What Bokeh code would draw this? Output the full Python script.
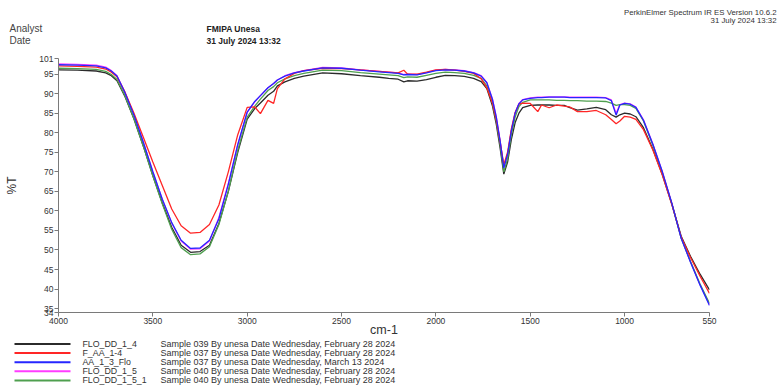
from bokeh.plotting import figure
from bokeh.models import Range1d, FixedTicker, ColumnDataSource
from bokeh.layouts import column
from bokeh.core.properties import value
from bokeh.embed import file_html
from bokeh.resources import INLINE

# ---------------- data ----------------
wavenumber = [4000, 3900, 3800, 3750, 3720, 3690, 3650, 3600, 3550, 3500,
              3450, 3400, 3350, 3300, 3250, 3200, 3150, 3100, 3050, 3000,
              2960, 2930, 2890, 2860, 2840, 2800, 2750, 2700, 2600, 2500,
              2400, 2300, 2250, 2200, 2170, 2150, 2100, 2050, 2000, 1950,
              1900, 1850, 1800, 1760, 1730, 1700, 1680, 1660, 1640, 1620,
              1600, 1580, 1560, 1540, 1500, 1460, 1440, 1400, 1360, 1320,
              1290, 1250, 1200, 1150, 1100, 1070, 1045, 1025, 1000, 970,
              940, 900, 850, 800, 750, 700, 650, 600, 550]

t_flo_dd_1_4 = [96.1, 96.0, 95.8, 95.3, 94.6, 93.3, 89.5, 83.5, 76.5, 69.0,
                62.0, 55.8, 51.2, 49.4, 49.6, 51.2, 56.8, 65.0, 75.0, 83.5,
                86.2, 87.6, 89.6, 90.6, 92.0, 93.0, 93.9, 94.5, 95.3, 95.1,
                94.6, 94.2, 93.9, 93.7, 93.0, 93.3, 93.2, 93.6, 94.2, 94.7,
                94.6, 94.4, 93.9, 93.1, 91.3, 86.8, 82.2, 76.2, 69.4, 72.5,
                78.3, 82.6, 85.0, 86.4, 87.0, 87.1, 87.1, 87.1, 87.0, 87.0,
                86.4, 85.8, 86.1, 86.5, 85.9, 84.6, 84.0, 84.6, 85.0, 84.8,
                84.1, 81.3, 75.8, 69.3, 61.8, 53.5, 48.3, 43.8, 39.8]

t_f_aa_1_4 = [97.1, 97.0, 96.8, 96.3, 95.5, 94.3, 90.6, 85.0, 78.8, 72.5,
              66.5, 60.5, 56.2, 54.3, 54.5, 56.5, 61.5, 70.0, 79.5, 86.5,
              86.6, 84.9, 88.3, 87.5, 91.3, 93.8, 95.2, 95.9, 96.5, 96.4,
              96.1, 95.7, 95.5, 95.3, 96.0, 95.0, 95.0, 95.5, 96.1, 96.2,
              96.0, 95.7, 95.2, 93.8, 91.5, 87.5, 83.3, 77.8, 71.8, 75.0,
              81.0, 85.2, 87.3, 87.6, 87.5, 85.4, 87.1, 86.4, 87.1, 86.8,
              86.6, 85.4, 85.4, 85.7, 84.6, 83.4, 82.3, 83.0, 84.2, 84.0,
              83.4, 80.8, 75.6, 69.2, 61.7, 53.3, 48.0, 43.3, 38.9]

t_aa_1_3_flo = [97.4, 97.3, 97.1, 96.6, 95.8, 94.5, 90.5, 84.5, 77.5, 70.0,
                63.0, 57.0, 52.5, 50.4, 50.5, 52.5, 58.0, 66.8, 77.0, 85.3,
                88.0, 89.5, 91.5, 92.6, 93.5, 94.5, 95.3, 95.8, 96.6, 96.5,
                96.0, 95.6, 95.4, 95.2, 94.8, 94.9, 94.8, 95.3, 95.9, 96.1,
                96.0, 95.8, 95.3, 94.5, 92.8, 88.5, 84.0, 78.0, 71.0, 74.5,
                80.5, 85.0, 87.4, 88.4, 88.8, 89.0, 89.0, 89.1, 89.1, 89.1,
                89.0, 89.0, 89.0, 89.0, 88.9, 88.2, 84.5, 87.1, 87.5, 87.3,
                86.5, 83.2, 77.0, 70.0, 62.0, 53.0, 46.8, 41.0, 35.8]

t_flo_dd_1_5 = [97.6, 97.5, 97.3, 96.8, 95.9, 94.6, 90.6, 84.6, 77.5, 70.0,
                63.0, 56.9, 52.3, 50.2, 50.3, 52.3, 58.3, 67.0, 76.8, 85.2,
                87.9, 89.5, 91.5, 92.6, 93.5, 94.6, 95.4, 95.9, 96.7, 96.6,
                96.1, 95.7, 95.5, 95.3, 94.9, 95.0, 94.9, 95.4, 96.0, 96.2,
                96.1, 95.9, 95.4, 94.6, 92.9, 88.6, 84.1, 78.1, 71.2, 74.6,
                80.6, 85.1, 87.5, 88.5, 88.9, 89.1, 89.1, 89.2, 89.2, 89.2,
                89.1, 89.1, 89.1, 89.1, 89.0, 88.4, 85.0, 87.2, 87.6, 87.4,
                86.6, 83.3, 77.1, 70.1, 62.1, 53.1, 46.9, 41.1, 36.0]

t_flo_dd_1_5_1 = [96.5, 96.4, 96.2, 95.7, 94.9, 93.6, 89.7, 83.6, 76.5, 69.0,
                  61.8, 55.3, 50.6, 48.8, 49.0, 50.8, 56.5, 65.0, 75.5, 84.0,
                  86.8, 88.6, 90.8, 91.8, 92.8, 93.8, 94.6, 95.2, 96.0, 95.9,
                  95.4, 95.0, 94.8, 94.6, 94.1, 94.3, 94.2, 94.7, 95.2, 95.5,
                  95.4, 95.2, 94.7, 93.9, 92.0, 87.6, 83.0, 77.0, 70.0, 73.3,
                  79.5, 84.0, 86.7, 87.8, 88.4, 88.4, 88.4, 88.4, 88.3, 88.3,
                  88.2, 88.2, 88.1, 88.1, 88.0, 87.6, 87.0, 87.2, 87.2, 87.0,
                  86.2, 83.0, 76.8, 69.8, 61.9, 53.0, 47.0, 41.3, 36.3]

series_names = ["FLO_DD_1_4", "F_AA_1-4", "AA_1_3_Flo", "FLO_DD_1_5", "FLO_DD_1_5_1"]
series_notes = ["Sample 039 By unesa Date Wednesday, February 28 2024",
                "Sample 037 By unesa Date Wednesday, February 28 2024",
                "Sample 037 By unesa Date Wednesday, March 13 2024",
                "Sample 040 By unesa Date Wednesday, February 28 2024",
                "Sample 040 By unesa Date Wednesday, February 28 2024"]
series_values = [t_flo_dd_1_4, t_f_aa_1_4, t_aa_1_3_flo, t_flo_dd_1_5, t_flo_dd_1_5_1]
series_colors = ["#2b2b2b", "#ff2626", "#2626ff", "#ff3cff", "#4f9f4f"]

x_ticks = [4000, 3500, 3000, 2500, 2000, 1500, 1000, 550]
y_ticks = [34, 35, 40, 45, 50, 55, 60, 65, 70, 75, 80, 85, 90, 95, 99]
y_tick_text = {99: "101"}

header_left = ["Analyst", "Date"]
header_mid = ["FMIPA Unesa", "31 July 2024 13:32"]
header_right = ["PerkinElmer Spectrum IR ES Version 10.6.2", "31 July 2024 13:32"]

FONT = "Liberation Sans"
W = 777
H_HEAD = 50
H_MAIN = 286
H_LEG = 49


def strip(h):
    f = figure(width=W, height=h, output_backend="svg", toolbar_location=None,
               x_range=Range1d(0, W), y_range=Range1d(h, 0),
               min_border=0, min_border_left=0, min_border_right=0,
               min_border_top=0, min_border_bottom=0, frame_align=False)
    f.axis.visible = False
    f.grid.visible = False
    f.outline_line_color = None
    f.border_fill_color = "white"
    return f


# ---------------- header strip ----------------
head = strip(H_HEAD)
head.text(x=[9, 9], y=[28, 40], text=header_left, text_font=value(FONT),
          text_font_size="10px", text_baseline="middle", text_color="#444444")
head.text(x=[206, 206], y=[28, 40], text=header_mid, text_font=value(FONT),
          text_font_size="8.5px", text_font_style="bold", text_baseline="middle",
          text_color="#222222")
head.text(x=[776, 776], y=[12, 20], text=header_right, text_font=value(FONT),
          text_font_size="7.8px", text_align="right", text_baseline="middle",
          text_color="#333333")

# ---------------- main plot ----------------
p = figure(width=W, height=H_MAIN, output_backend="svg", toolbar_location=None,
           x_range=Range1d(4000, 550), y_range=Range1d(34, 99),
           min_border_left=58, min_border_right=68, min_border_top=8,
           min_border_bottom=24, frame_width=651, frame_height=254,
           frame_align=False)
p.outline_line_color = None
p.grid.visible = False
p.background_fill_color = "white"
p.border_fill_color = "white"

for ax in (p.xaxis[0], p.yaxis[0]):
    ax.axis_line_color = "#7a7a7a"
    ax.major_tick_line_color = "#7a7a7a"
    ax.minor_tick_line_color = None
    ax.major_tick_out = 4
    ax.major_tick_in = 0
    ax.major_label_text_font = FONT
    ax.major_label_text_font_size = "8.5px"
    ax.major_label_text_color = "#333333"
    ax.major_label_standoff = 1
    ax.axis_label_text_font = FONT
    ax.axis_label_text_font_style = "normal"
    ax.axis_label_text_color = "#333333"
p.xaxis[0].ticker = FixedTicker(ticks=x_ticks)
p.yaxis[0].ticker = FixedTicker(ticks=y_ticks)
p.yaxis[0].major_label_overrides = y_tick_text
p.xaxis[0].axis_label = "cm-1"
p.xaxis[0].axis_label_text_font_size = "12.5px"
p.xaxis[0].axis_label_standoff = -4
p.yaxis[0].axis_label = "%T"
p.yaxis[0].axis_label_text_font_size = "12px"
p.yaxis[0].axis_label_standoff = 17

draw_order = [3, 0, 4, 1, 2]
for i in draw_order:
    src = ColumnDataSource(dict(x=wavenumber, y=series_values[i]))
    p.line("x", "y", source=src, line_color=series_colors[i], line_width=1.3)

# ---------------- legend strip ----------------
leg = strip(H_LEG)
row0, step = 4.5, 9.1
rows = [row0 + step * i for i in range(len(series_names))]
for i, yy in enumerate(rows):
    leg.line([14, 70], [yy, yy], line_color=series_colors[i], line_width=2)
leg.text(x=[82] * len(rows), y=rows, text=series_names, text_font=value(FONT),
         text_font_size="8.8px", text_baseline="middle", text_color="#333333")
leg.text(x=[160] * len(rows), y=rows, text=series_notes, text_font=value(FONT),
         text_font_size="9px", text_baseline="middle", text_color="#333333")

layout = column(head, p, leg, spacing=0)
open("out.html", "w").write(file_html(layout, INLINE))
